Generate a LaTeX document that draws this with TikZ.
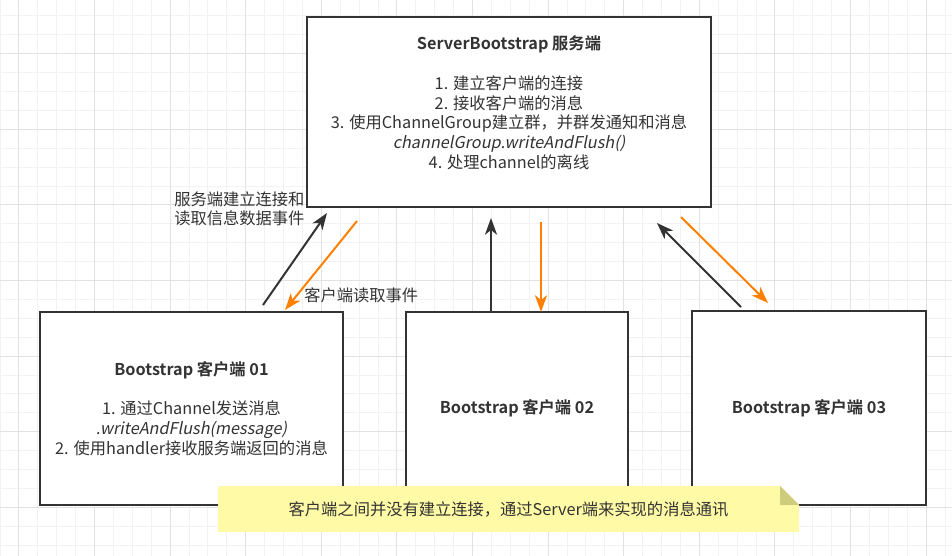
\documentclass[tikz,border=0pt]{standalone}
\usepackage{fontspec}
\setmainfont{Noto Sans CJK SC}[BoldFont={Noto Sans CJK SC Bold},AutoFakeSlant=0.2]
\usetikzlibrary{arrows.meta}
\definecolor{boxline}{RGB}{51,51,51}
\definecolor{evtorange}{RGB}{255,128,0}
\definecolor{notefill}{RGB}{255,250,165}
\definecolor{notefold}{RGB}{205,205,125}
\definecolor{gridminor}{RGB}{242,242,242}
\definecolor{gridmajor}{RGB}{226,226,226}

\begin{document}
\begin{tikzpicture}[x=0.75pt,y=0.75pt,yscale=-1,xscale=1,
  box/.style={draw=boxline,line width=1.5pt,fill=white,align=center,text=boxline,inner sep=0pt,font=\fontsize{12.2}{14.8}\selectfont},
  evtlabel/.style={inner sep=0pt,text=boxline,align=left,font=\fontsize{12.2}{14}\selectfont},
  upline/.style={draw=boxline,line width=1.5pt,-{Stealth[length=12.5pt,width=9pt,inset=3.5pt]}},
  downline/.style={draw=evtorange,line width=1.5pt,-{Stealth[length=12.5pt,width=9pt,inset=3.5pt]}}
]
\useasboundingbox (0,0) rectangle (952,556);

%Background grid
\foreach \i in {0,...,50} \draw [gridminor,line width=0.75pt] (\i*18.9,0) -- (\i*18.9,556);
\foreach \j in {0,...,29} \draw [gridminor,line width=0.75pt] (0,15.9+\j*18.9) -- (952,15.9+\j*18.9);
\foreach \i in {0,...,12} \draw [gridmajor,line width=0.75pt] (18.9+\i*75.6,0) -- (18.9+\i*75.6,556);
\foreach \j in {0,...,6} \draw [gridmajor,line width=0.75pt] (0,53.7+\j*75.6) -- (952,53.7+\j*75.6);

%Shape: Rectangle [server]
\node [box,minimum width=303pt,minimum height=142.5pt] (srv) at (509,112)
  {\textbf{ServerBootstrap 服务端}\\ \mbox{}\\
   1. 建立客户端的连接\\
   2. 接收客户端的消息\\
   3. 使用ChannelGroup建立群，并群发通知和消息\\
   \textit{channelGroup.writeAndFlush()}\\
   4. 处理channel的离线\\ \mbox{}};
%Shape: Rectangle [client 01]
\node [box,minimum width=227.25pt,minimum height=144.75pt] (cli1) at (191.5,408.5)
  {\textbf{Bootstrap 客户端 01}\\ \mbox{}\\
   1. 通过Channel发送消息\\
   \textit{.writeAndFlush(message)}\\
   2. 使用handler接收服务端返回的消息};
%Shape: Rectangle [client 02]
\node [box,minimum width=166.5pt,minimum height=144pt] (cli2) at (517,408)
  {\textbf{Bootstrap 客户端 02}};
%Shape: Rectangle [client 03]
\node [box,minimum width=175.5pt,minimum height=145.5pt] (cli3) at (809,408)
  {\textbf{Bootstrap 客户端 03}};

%Arrow ends
\coordinate (up1a) at (263,305);  \coordinate (up1b) at (327,213);
\coordinate (dn1a) at (357,221);  \coordinate (dn1b) at (285,310);
\coordinate (up2a) at (491,312);  \coordinate (up2b) at (491,218);
\coordinate (dn2a) at (541,222);  \coordinate (dn2b) at (541,312);
\coordinate (up3a) at (741,307);  \coordinate (up3b) at (657,223);
\coordinate (dn3a) at (681,217);  \coordinate (dn3b) at (768,303);

%Straight Lines
\draw [upline] (up1a) -- (up1b);
\draw [downline] (dn1a) -- (dn1b);
\draw [upline] (up2a) -- (up2b);
\draw [downline] (dn2a) -- (dn2b);
\draw [upline] (up3a) -- (up3b);
\draw [downline] (dn3a) -- (dn3b);

% Text Node
\node [evtlabel,anchor=west] (lblsrv) at (174,209) {服务端建立连接和\\读取信息数据事件};
% Text Node
\node [evtlabel,anchor=west] (lblcli) at (304,295) {客户端读取事件};

%Shape: Note
\draw [fill=notefill,draw=none] (218,486) -- (780,486) -- (799,505) -- (799,532) -- (218,532) -- cycle;
\draw [fill=notefold,draw=none] (780,486) -- (780,505) -- (799,505) -- cycle;
% Text Node
\node [evtlabel,align=center] (note) at (508.5,509) {客户端之间并没有建立连接，通过Server端来实现的消息通讯};
\end{tikzpicture}
\end{document}
